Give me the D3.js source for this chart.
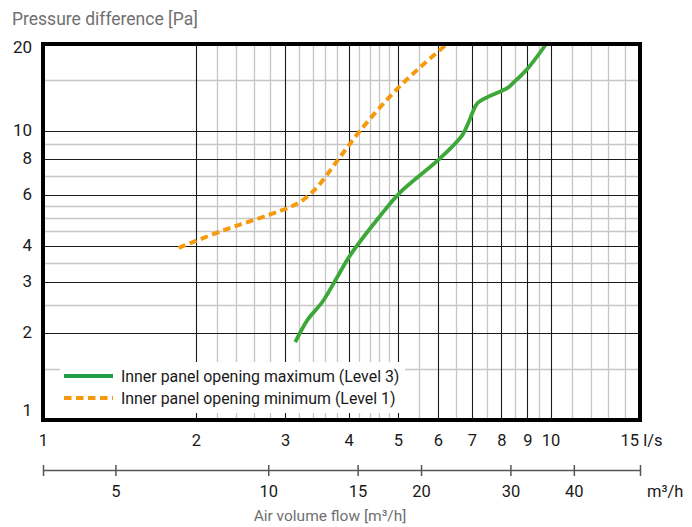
<!DOCTYPE html>
<html>
<head>
<meta charset="utf-8">
<script src="https://cdn.jsdelivr.net/npm/d3@7"></script>
<style>
  body { margin: 0; background: #fff; }
  svg { display: block; font-family: Roboto, "Liberation Sans", sans-serif; }
</style>
</head>
<body>
<div id="chart"></div>
<script>
// tick values and grid
const xTicks = [1, 2, 3, 4, 5, 6, 7, 8, 9, 10, 15];
const xMajor = [2, 3, 4, 5, 6, 7, 8, 9, 10];
const xMinor = [2.2, 2.4, 2.6, 2.8, 3.2, 3.4, 3.6, 3.8, 4.2, 4.4, 4.6, 4.8, 5.5, 6.5, 7.5, 8.5, 9.5, 11, 12, 13, 14];
const yTicks = [1, 2, 3, 4, 6, 8, 10, 20];
const yMajor = [2, 3, 4, 6, 8, 10];
const yMinor = [1.5, 2.5, 3.5, 4.5, 5, 5.5, 7, 9, 15];
const m3hTicks = [5, 10, 15, 20, 30, 40];

// curves, l/s vs Pa
const maxFlow = [3.14, 3.32, 3.55, 3.77, 4.03, 4.58, 5.04, 6.07, 6.70, 6.89, 7.02, 7.18, 7.51, 8.23, 8.45, 9.05, 9.8];
const maxPressure = [1.86, 2.22, 2.56, 3.05, 3.72, 5.0, 6.1, 8.07, 9.68, 10.7, 11.6, 12.5, 13.1, 14.1, 14.7, 16.6, 20];
const minFlow = [1.85, 2.25, 2.78, 3.07, 3.25, 3.47, 3.81, 4.21, 4.89, 5.53, 6.25];
const minPressure = [3.94, 4.51, 5.12, 5.46, 5.77, 6.4, 7.94, 10.0, 13.5, 16.6, 20];
const seriesNames = ['Inner panel opening maximum (Level 3)', 'Inner panel opening minimum (Level 1)'];

const svg = d3.select('#chart')
  .append('svg')
    .attr('width', 692)
    .attr('height', 527);

const x = d3.scaleLog().domain([1, 15]).range([43, 640]);
const y = d3.scaleLog().domain([1, 20]).range([420, 44]);
const xm = d3.scaleLog().domain([3.6, 54]).range(x.range());
const px = v => Math.round(v) + 0.5;

// grid lines
const grid = svg.append('g');
grid.selectAll('.vminor').data(xMinor).join('line')
    .attr('x1', d => px(x(d))).attr('x2', d => px(x(d)))
    .attr('y1', y(20)).attr('y2', y(1))
    .attr('stroke', '#c6c6c6').attr('stroke-width', 1.3);
grid.selectAll('.hminor').data(yMinor).join('line')
    .attr('y1', d => px(y(d))).attr('y2', d => px(y(d)))
    .attr('x1', x(1)).attr('x2', x(15))
    .attr('stroke', '#c6c6c6').attr('stroke-width', 1.3);
grid.selectAll('.vmajor').data(xMajor).join('line')
    .attr('x1', d => px(x(d))).attr('x2', d => px(x(d)))
    .attr('y1', y(20)).attr('y2', y(1))
    .attr('stroke', '#1a1a1a').attr('stroke-width', 1.1);
grid.selectAll('.hmajor').data(yMajor).join('line')
    .attr('y1', d => px(y(d))).attr('y2', d => px(y(d)))
    .attr('x1', x(1)).attr('x2', x(15))
    .attr('stroke', '#1a1a1a').attr('stroke-width', 1.1);

// curves
const line = d3.line()
    .x(d => x(d[0]))
    .y(d => y(d[1]))
    .curve(d3.curveCatmullRom.alpha(0.5));

svg.append('path')
    .datum(d3.zip(minFlow, minPressure))
    .attr('d', line)
    .attr('fill', 'none')
    .attr('stroke', '#f59a0c')
    .attr('stroke-width', 4)
    .attr('stroke-dasharray', '7.5,4.5');

svg.append('path')
    .datum(d3.zip(maxFlow, maxPressure))
    .attr('d', line)
    .attr('fill', 'none')
    .attr('stroke', '#3ca839')
    .attr('stroke-width', 3.8)
    .attr('stroke-linejoin', 'round');

// legend
const legend = svg.append('g');
legend.append('rect')
    .attr('x', 60).attr('y', 362)
    .attr('width', 345).attr('height', 51)
    .attr('fill', '#fff');
legend.selectAll('line').data(seriesNames).join('line')
    .attr('x1', 64).attr('x2', 113)
    .attr('y1', (d, i) => 376 + i * 22).attr('y2', (d, i) => 376 + i * 22)
    .attr('stroke', (d, i) => ['#1f9e48', '#f59a0c'][i])
    .attr('stroke-width', 4)
    .attr('stroke-dasharray', (d, i) => i ? '7.5,4.5' : null);
legend.selectAll('text').data(seriesNames).join('text')
    .attr('x', 121)
    .attr('y', (d, i) => 376 + i * 22)
    .attr('dy', '0.35em')
    .attr('font-size', '15.9px')
    .attr('fill', '#1a1a1a')
    .text(d => d);

// frame
svg.append('rect')
    .attr('x', x(1)).attr('y', y(20))
    .attr('width', x(15) - x(1)).attr('height', y(1) - y(20))
    .attr('fill', 'none')
    .attr('stroke', '#000')
    .attr('stroke-width', 4);

// y axis labels
const yAxis = svg.append('g')
    .attr('transform', `translate(${x(1)},0)`)
    .call(d3.axisLeft(y).tickValues(yTicks).tickFormat(d => d).tickSize(0).tickPadding(11));
yAxis.select('.domain').remove();
yAxis.attr('font-size', 17).attr('font-family', null).attr('color', '#1a1a1a');
yAxis.selectAll('.tick text')
    .attr('y', d => d === 1 ? -10 : d === 20 ? 3 : -1);

// l/s axis labels, last one carries the unit
const xAxis = svg.append('g')
    .attr('transform', `translate(0,${y(1)})`)
    .call(d3.axisBottom(x).tickValues(xTicks)
      .tickFormat(d => d === 15 ? '15 l/s' : d)
      .tickSize(0).tickPadding(14));
xAxis.select('.domain').remove();
xAxis.attr('font-size', 16.5).attr('font-family', null).attr('color', '#1a1a1a');
xAxis.selectAll('.tick text')
    .filter(d => d === 15)
    .attr('text-anchor', 'start')
    .attr('x', -20);

// m3/h axis
const mAxis = svg.append('g')
    .attr('transform', 'translate(0,470)')
    .call(d3.axisBottom(xm)
      .tickValues([3.6, ...m3hTicks, 54])
      .tickFormat(d => m3hTicks.includes(d) ? d : '')
      .tickSizeInner(6).tickSizeOuter(0).tickPadding(9));
mAxis.attr('font-size', 16.5).attr('font-family', null).attr('color', '#555');
mAxis.select('.domain').attr('stroke-width', 1.5);
mAxis.selectAll('.tick line').attr('y1', -5).attr('stroke-width', 1.5);
mAxis.selectAll('.tick text').attr('fill', '#1a1a1a');
mAxis.append('text')
    .attr('x', x(15) + 7)
    .attr('y', 15)
    .attr('dy', '0.71em')
    .attr('text-anchor', 'start')
    .attr('fill', '#1a1a1a')
    .text('m³/h');

// axis titles
svg.append('text')
    .attr('x', 12)
    .attr('y', 25)
    .attr('font-size', '17.5px')
    .attr('fill', '#707070')
    .text('Pressure difference [Pa]');

svg.append('text')
    .attr('x', 330)
    .attr('y', 521)
    .attr('text-anchor', 'middle')
    .attr('font-size', '15.5px')
    .attr('fill', '#707070')
    .text('Air volume flow [m³/h]');
</script>
</body>
</html>
